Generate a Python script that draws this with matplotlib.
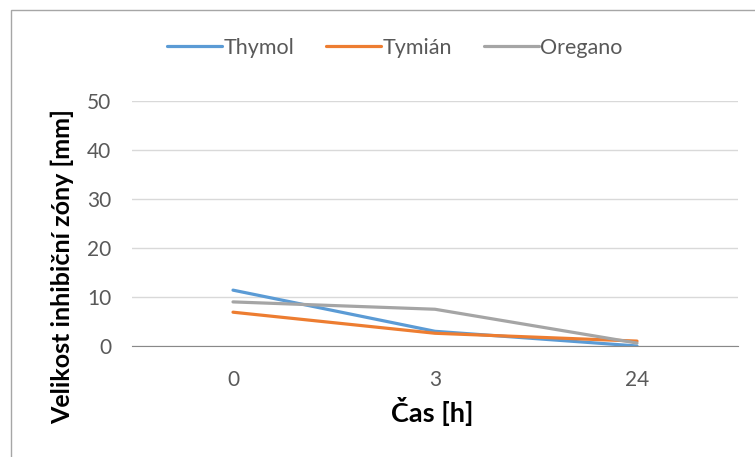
import matplotlib
matplotlib.use('Agg')
import matplotlib.pyplot as plt
from matplotlib.patches import Rectangle

plt.rcParams['font.family'] = ['Lato', 'DejaVu Sans']

casy = ['0', '3', '24']
thymol = [11.4, 3.0, 0.0]
tymian = [6.9, 2.6, 1.0]
oregano = [9.0, 7.5, 0.6]

fig = plt.figure(figsize=(7.55, 4.57), dpi=100)
ax = fig.add_axes([132/755., 1-346/457., (738-132)/755., (346-101)/457.])

x = range(len(casy))
ax.plot(x, thymol, color='#5B9BD5', lw=2.3, label='Thymol', solid_capstyle='round')
ax.plot(x, tymian, color='#ED7D31', lw=2.3, label='Tymián', solid_capstyle='round')
ax.plot(x, oregano, color='#A5A5A5', lw=2.3, label='Oregano', solid_capstyle='round')

ax.set_xlim(-0.5, 2.5)
ax.set_ylim(0, 50)
ax.set_yticks(range(0, 51, 10))
ax.set_xticks(list(x))
ax.set_xticklabels(casy)
ax.yaxis.grid(True, color='#D9D9D9', lw=1)
ax.set_axisbelow(True)
for s in ['top', 'right', 'left']:
  ax.spines[s].set_visible(False)
ax.spines['bottom'].set_color('#898989')
ax.tick_params(length=0, labelsize=15, colors='#595959')
ax.tick_params(axis='y', pad=15)
ax.tick_params(axis='x', pad=17)
ax.set_xlabel('Čas [h]', fontsize=19.5, fontweight='bold')
ax.set_ylabel('Velikost inhibiční zóny [mm]', fontsize=18, fontweight='bold')
ax.xaxis.set_label_coords(0.495, (346-397)/245.)
ax.yaxis.set_label_coords((74-132)/606., (346-266)/245.)

leg = fig.legend(loc='center', bbox_to_anchor=(395/755., 1-48/457.), ncol=3, frameon=False,
                 fontsize=15.5, handlelength=2.55, handletextpad=0.05, columnspacing=1.5)
for t in leg.get_texts():
  t.set_color('#595959')

fig.patches.append(Rectangle((11/755., -0.1), 1.1, 1-10/457.+0.1, transform=fig.transFigure,
                             fill=False, edgecolor='#A6A6A6', lw=1))

fig.savefig('out.png', dpi=100)
